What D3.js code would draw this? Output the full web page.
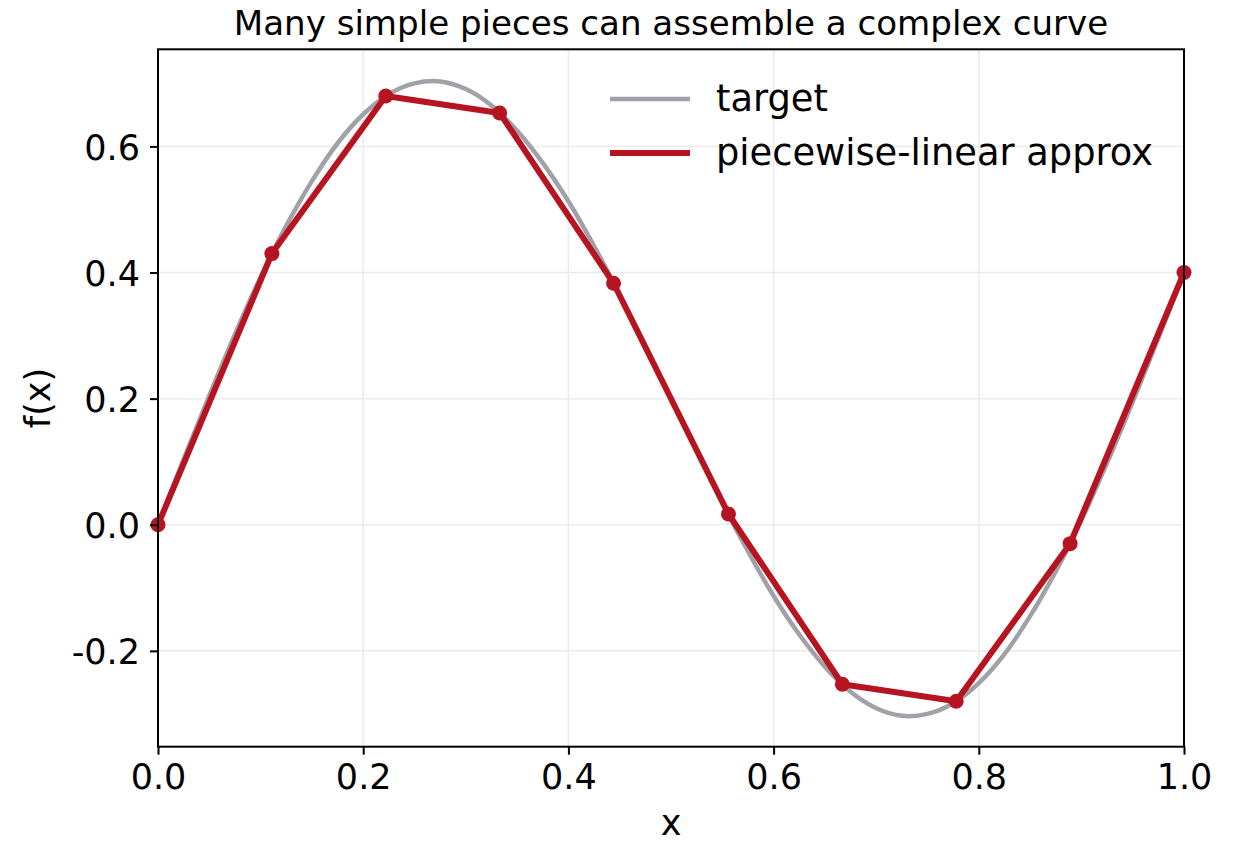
<!DOCTYPE html>
<html>
<head>
<meta charset="utf-8">
<script src="https://cdn.jsdelivr.net/npm/d3@7"></script>
<style>
  html, body { margin: 0; padding: 0; background: #fff; }
  svg { display: block; font-family: "DejaVu Sans", sans-serif; }
</style>
</head>
<body>
<svg id="chart" width="1243" height="843"></svg>
<script>
// ---- data ----
const targetX = [0, 0.025, 0.05, 0.075, 0.1, 0.125, 0.15, 0.175, 0.2, 0.225, 0.25, 0.275, 0.3, 0.325, 0.35, 0.375, 0.4, 0.425, 0.45, 0.475, 0.5, 0.525, 0.55, 0.575, 0.6, 0.625, 0.65, 0.675, 0.7, 0.725, 0.75, 0.775, 0.8, 0.825, 0.85, 0.875, 0.9, 0.925, 0.95, 0.975, 1.0];
const targetY = [0, 0.104, 0.205, 0.302, 0.393, 0.474, 0.545, 0.605, 0.651, 0.683, 0.700, 0.703, 0.691, 0.665, 0.625, 0.574, 0.513, 0.442, 0.365, 0.284, 0.200, 0.116, 0.035, -0.042, -0.113, -0.174, -0.225, -0.265, -0.291, -0.303, -0.300, -0.283, -0.251, -0.205, -0.145, -0.074, 0.007, 0.098, 0.195, 0.296, 0.400];
const knotX = [0, 0.111, 0.222, 0.333, 0.444, 0.556, 0.667, 0.778, 0.889, 1.0];
const knotY = [0, 0.430, 0.680, 0.653, 0.383, 0.017, -0.253, -0.280, -0.030, 0.400];
const xTicks = [0.0, 0.2, 0.4, 0.6, 0.8, 1.0];
const yTicks = [-0.2, 0.0, 0.2, 0.4, 0.6];
const seriesNames = ["target", "piecewise-linear approx"];
const titleText = "Many simple pieces can assemble a complex curve";

// ---- layout ----
const L = 158, R = 1184, T = 49.3, B = 746.7;
const grayC = "#a0a2a8", redC = "#b71422";

const svg = d3.select("#chart");
const x = d3.scaleLinear().domain([0, 1]).range([L, R]);
const y = d3.scaleLinear().domain([-0.352, 0.754]).range([B, T]);

// grid
const grid = svg.append("g");
grid.selectAll("line.gx").data(xTicks).enter().append("line")
  .attr("x1", d => x(d)).attr("x2", d => x(d)).attr("y1", T).attr("y2", B)
  .attr("stroke", "#ebebeb").attr("stroke-width", 1.5);
grid.selectAll("line.gy").data(yTicks).enter().append("line")
  .attr("x1", L).attr("x2", R).attr("y1", d => y(d)).attr("y2", d => y(d))
  .attr("stroke", "#ebebeb").attr("stroke-width", 1.5);

// clip
svg.append("clipPath").attr("id", "clip").append("rect")
  .attr("x", L).attr("y", T).attr("width", R - L).attr("height", B - T);

const plot = svg.append("g").attr("clip-path", "url(#clip)");
const tData = targetX.map((v, i) => [v, targetY[i]]);
const kData = knotX.map((v, i) => [v, knotY[i]]);

plot.append("path").datum(tData)
  .attr("d", d3.line().x(d => x(d[0])).y(d => y(d[1])).curve(d3.curveCatmullRom.alpha(0.5)))
  .attr("fill", "none").attr("stroke", grayC).attr("stroke-width", 4.5);

const approxG = svg.append("g");
approxG.append("path").datum(kData)
  .attr("d", d3.line().x(d => x(d[0])).y(d => y(d[1])))
  .attr("fill", "none").attr("stroke", redC).attr("stroke-width", 6)
  .attr("stroke-linejoin", "round");
approxG.selectAll("circle").data(kData).enter().append("circle")
  .attr("cx", d => x(d[0])).attr("cy", d => y(d[1])).attr("r", 7.5)
  .attr("fill", redC);

// spines
svg.append("rect").attr("x", L).attr("y", T).attr("width", R - L).attr("height", B - T)
  .attr("fill", "none").attr("stroke", "#000").attr("stroke-width", 2);

// axes
const xAxis = d3.axisBottom(x).tickValues(xTicks).tickFormat(d3.format(".1f")).tickSize(8).tickPadding(8);
const gx = svg.append("g").attr("transform", `translate(0,${B})`).call(xAxis);
const yAxis = d3.axisLeft(y).tickValues(yTicks).tickFormat(d => d3.format(".1f")(d).replace("−", "-")).tickSize(8).tickPadding(10);
const gy = svg.append("g").attr("transform", `translate(${L},0)`).call(yAxis);
[gx, gy].forEach(g => {
  g.select(".domain").remove();
  g.selectAll(".tick line").attr("stroke", "#000").attr("stroke-width", 2);
  g.selectAll(".tick text").attr("fill", "#000").style("font-size", "35px")
    .style("font-family", "'DejaVu Sans', sans-serif");
});
gy.selectAll(".tick text").attr("dy", "0.36em");
gx.selectAll(".tick text").attr("dy", "0.76em");

// labels
svg.append("text").attr("x", (L + R) / 2).attr("y", 835).attr("text-anchor", "middle")
  .style("font-size", "35px").text("x");
svg.append("text").attr("transform", `translate(50,${(T + B) / 2}) rotate(-90)`)
  .attr("text-anchor", "middle").style("font-size", "35px").text("f(x)");
svg.append("text").attr("x", (L + R) / 2).attr("y", 35).attr("text-anchor", "middle")
  .style("font-size", "34.1px").text(titleText);

// legend
const leg = svg.append("g");
const legColors = [grayC, redC], legW = [4.5, 6], legY = [99, 153];
seriesNames.forEach((n, i) => {
  leg.append("line").attr("x1", 610).attr("x2", 690).attr("y1", legY[i]).attr("y2", legY[i])
    .attr("stroke", legColors[i]).attr("stroke-width", legW[i]);
  leg.append("text").attr("x", 716).attr("y", legY[i] + 12).style("font-size", "36.8px").text(n);
});
</script>
</body>
</html>
